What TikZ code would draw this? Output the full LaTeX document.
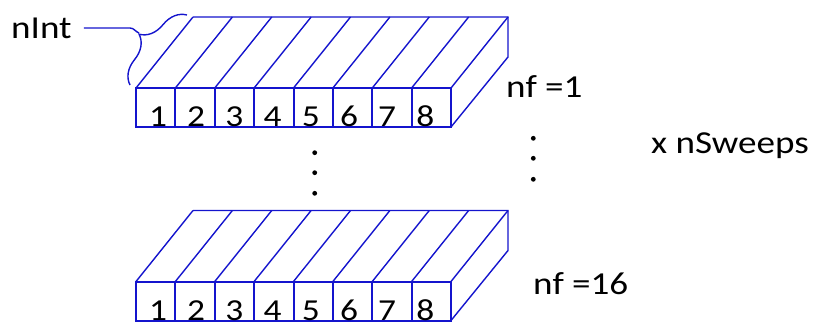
\documentclass[tikz,border=0pt]{standalone}
\usepackage{fontspec}
\newfontfamily\lab[FakeStretch=1.16]{Carlito}
\usetikzlibrary{decorations.pathreplacing}
\definecolor{boxblue}{RGB}{20,20,205}
\begin{document}
\begin{tikzpicture}[x=1pt,y=-1pt,
  edge/.style={draw=boxblue,line width=1.4pt},
  front/.style={draw=boxblue,line width=2pt},
  lbl/.style={font=\lab\fontsize{32}{38}\selectfont, inner sep=0pt, anchor=base west},
  dig/.style={font=\lab\fontsize{30.5}{36}\selectfont, inner sep=0pt, anchor=base},
  dot/.style={circle, fill=black, inner sep=0pt, minimum size=4.8pt}]
\useasboundingbox (0,0) rectangle (821,329);
\foreach \yy/\nm in {0/a,193.5/b}{
  \foreach \i in {0,...,8}{
    \draw[edge] ({136+39.375*\i},{\yy+88}) -- ++(57,-71);
  }
  \draw[edge] (193,{\yy+17}) -- (508,{\yy+17}) -- (508,{\yy+57}) -- (451,{\yy+127});
  \draw[front] (136,{\yy+88}) rectangle (451,{\yy+127});
  \foreach \i in {1,...,7} \draw[front] ({136+39.375*\i},{\yy+88}) -- ++(0,39);
  \foreach \i in {1,...,8} \node[dig] (\nm\i) at ({158+38.2*(\i-1)},{\yy+126.5}) {\i};
}
% brace and nInt label
\draw[edge, decorate, decoration={brace, amplitude=25pt}] (130,85) -- (187,15);
\coordinate (tip) at (139,33);
\coordinate (bend) at (130,28);
\node[lbl] (nint) at (11,38) {nInt};
\draw[edge] ([xshift=12pt]nint.east |- bend) -- (bend) to[out=0,in=160] (tip);
% labels
\node[lbl] (nf1) at (506,97) {nf =1};
\node[lbl] (nf16) at (533,294) {nf =16};
\node[lbl] (sweeps) at (651,153) {x nSweeps};
% dots
\node[dot] (m1) at (314.7,152.7) {};
\node[dot] (m2) at (314.7,172.7) {};
\node[dot] (m3) at (314.7,193.3) {};
\node[dot] (r1) at (533.3,138.3) {};
\node[dot] (r2) at (533.3,158.3) {};
\node[dot] (r3) at (533.3,179.3) {};
\end{tikzpicture}
\end{document}
